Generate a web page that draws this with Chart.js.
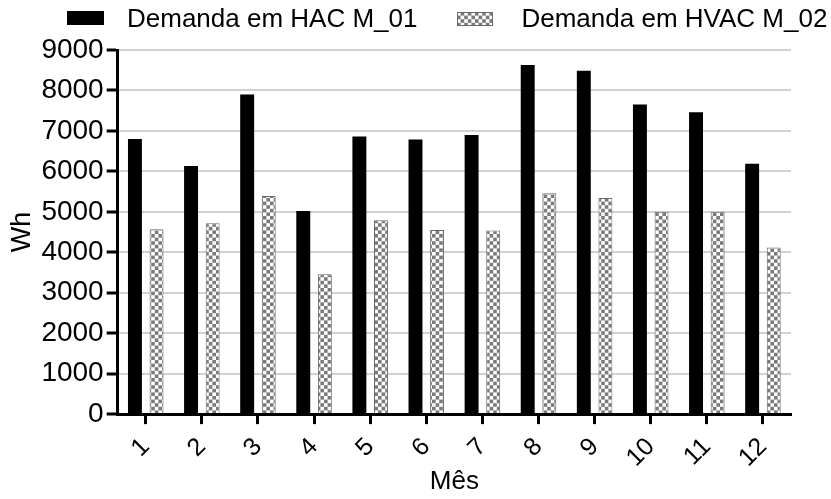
<!DOCTYPE html>
<html>
<head>
<meta charset="utf-8">
<script src="https://cdn.jsdelivr.net/npm/chart.js@4.4.1/dist/chart.umd.min.js"></script>
<style>
  html, body { margin: 0; padding: 0; background: #fff; }
  #wrap { position: relative; width: 831px; height: 499px; }
  #legend {
    position: absolute; left: 67px; top: 5px;
    display: flex; gap: 40px;
    font-family: "Liberation Sans", Arial, sans-serif; font-size: 26px; line-height: 26px; color: #000;
  }
  .lg-item { display: flex; align-items: center; gap: 23px; white-space: nowrap; }
  .lg-item + .lg-item { gap: 28px; }
  .lg-item + .lg-item canvas { position: relative; top: 1px; }
  .lg-item canvas { display: block; }
</style>
</head>
<body>
<div id="wrap">
  <canvas id="chart" width="831" height="499"></canvas>
  <div id="legend"></div>
</div>
<script>
// Monthly energy demand (Wh) for the two systems
const months = ['1', '2', '3', '4', '5', '6', '7', '8', '9', '10', '11', '12'];
const hacWh  = [6800, 6130, 7900, 5020, 6860, 6790, 6900, 8630, 8490, 7650, 7460, 6190];
const hvacWh = [4570, 4720, 5390, 3460, 4790, 4550, 4540, 5460, 5340, 5000, 5000, 4120];
const yTicks = [0, 1000, 2000, 3000, 4000, 5000, 6000, 7000, 8000, 9000];
const seriesNames = ['Demanda em HAC M_01', 'Demanda em HVAC M_02'];

const FONT = '"Liberation Sans", Arial, sans-serif';

// grey / white checkerboard fill for the HVAC bars
function checkerPattern() {
  const n = 10, cell = 3.6, size = Math.round(n * cell);
  const c = document.createElement('canvas');
  c.width = size; c.height = size;
  const g = c.getContext('2d');
  g.fillStyle = '#ffffff';
  g.fillRect(0, 0, size, size);
  g.fillStyle = '#7a7a7a';
  for (let r = 0; r < n; r++) {
    for (let k = 0; k < n; k++) {
      if ((r + k) % 2 === 1) g.fillRect(k * cell, r * cell, cell, cell);
    }
  }
  return g.createPattern(c, 'repeat');
}

// legend rendered as HTML from the chart's own legend items
const htmlLegend = {
  id: 'htmlLegend',
  afterUpdate(chart) {
    const box = document.getElementById('legend');
    box.innerHTML = '';
    const items = chart.options.plugins.legend.labels.generateLabels(chart);
    items.forEach((it, i) => {
      const row = document.createElement('div');
      row.className = 'lg-item';
      const sw = document.createElement('canvas');
      sw.width = i === 0 ? 37 : 36; sw.height = 14;
      const g = sw.getContext('2d');
      g.fillStyle = it.fillStyle;
      g.fillRect(0, 0, sw.width, sw.height);
      if (it.lineWidth) {
        g.strokeStyle = it.strokeStyle;
        g.lineWidth = 1;
        g.strokeRect(0.5, 0.5, sw.width - 1, sw.height - 1);
      }
      const tx = document.createElement('span');
      tx.textContent = it.text;
      row.appendChild(sw);
      row.appendChild(tx);
      box.appendChild(row);
    });
  }
};

const ctx = document.getElementById('chart').getContext('2d');
new Chart(ctx, {
  type: 'bar',
  data: {
    labels: months,
    datasets: [
      {
        label: seriesNames[0],
        data: hacWh,
        backgroundColor: '#000000',
        borderColor: '#1a1a1a',
        borderWidth: 0,
        categoryPercentage: 0.77,
        barPercentage: 0.645
      },
      {
        label: seriesNames[1],
        data: hvacWh,
        backgroundColor: checkerPattern(),
        borderColor: '#6a6a6a',
        borderWidth: 1,
        categoryPercentage: 0.77,
        barPercentage: 0.645
      }
    ]
  },
  options: {
    responsive: false,
    animation: false,
    layout: { padding: { left: 6, right: 40, top: 50, bottom: 2 } },
    plugins: {
      legend: { display: false },
      tooltip: { enabled: false }
    },
    scales: {
      x: {
        offset: true,
        grid: {
          offset: false,
          drawOnChartArea: false,
          tickColor: '#000',
          tickLength: 10,
          tickWidth: 3
        },
        border: { color: '#000', width: 3 },
        ticks: {
          color: '#000',
          font: { family: FONT, size: 25 },
          minRotation: 45,
          maxRotation: 45,
          padding: 8
        },
        title: {
          display: true,
          text: 'Mês',
          color: '#000',
          font: { family: FONT, size: 26, lineHeight: '1px' },
          padding: { top: 0, bottom: 15 }
        }
      },
      y: {
        min: 0,
        max: 9000,
        afterBuildTicks(scale) { scale.ticks = yTicks.map(v => ({ value: v })); },
        grid: {
          color: c => (c.tick && c.tick.value === 0) ? 'rgba(0,0,0,0)' : '#d2d2d2',
          lineWidth: 2,
          tickColor: '#000',
          tickLength: 11,
          tickWidth: 3
        },
        border: { color: '#000', width: 3 },
        ticks: {
          color: '#000',
          font: { family: FONT, size: 28 },
          padding: 3,
          callback: v => String(v)
        },
        title: {
          display: true,
          text: 'Wh',
          color: '#000',
          font: { family: FONT, size: 27 },
          padding: { top: 0, bottom: 0 }
        }
      }
    }
  },
  plugins: [htmlLegend]
});
</script>
</body>
</html>
